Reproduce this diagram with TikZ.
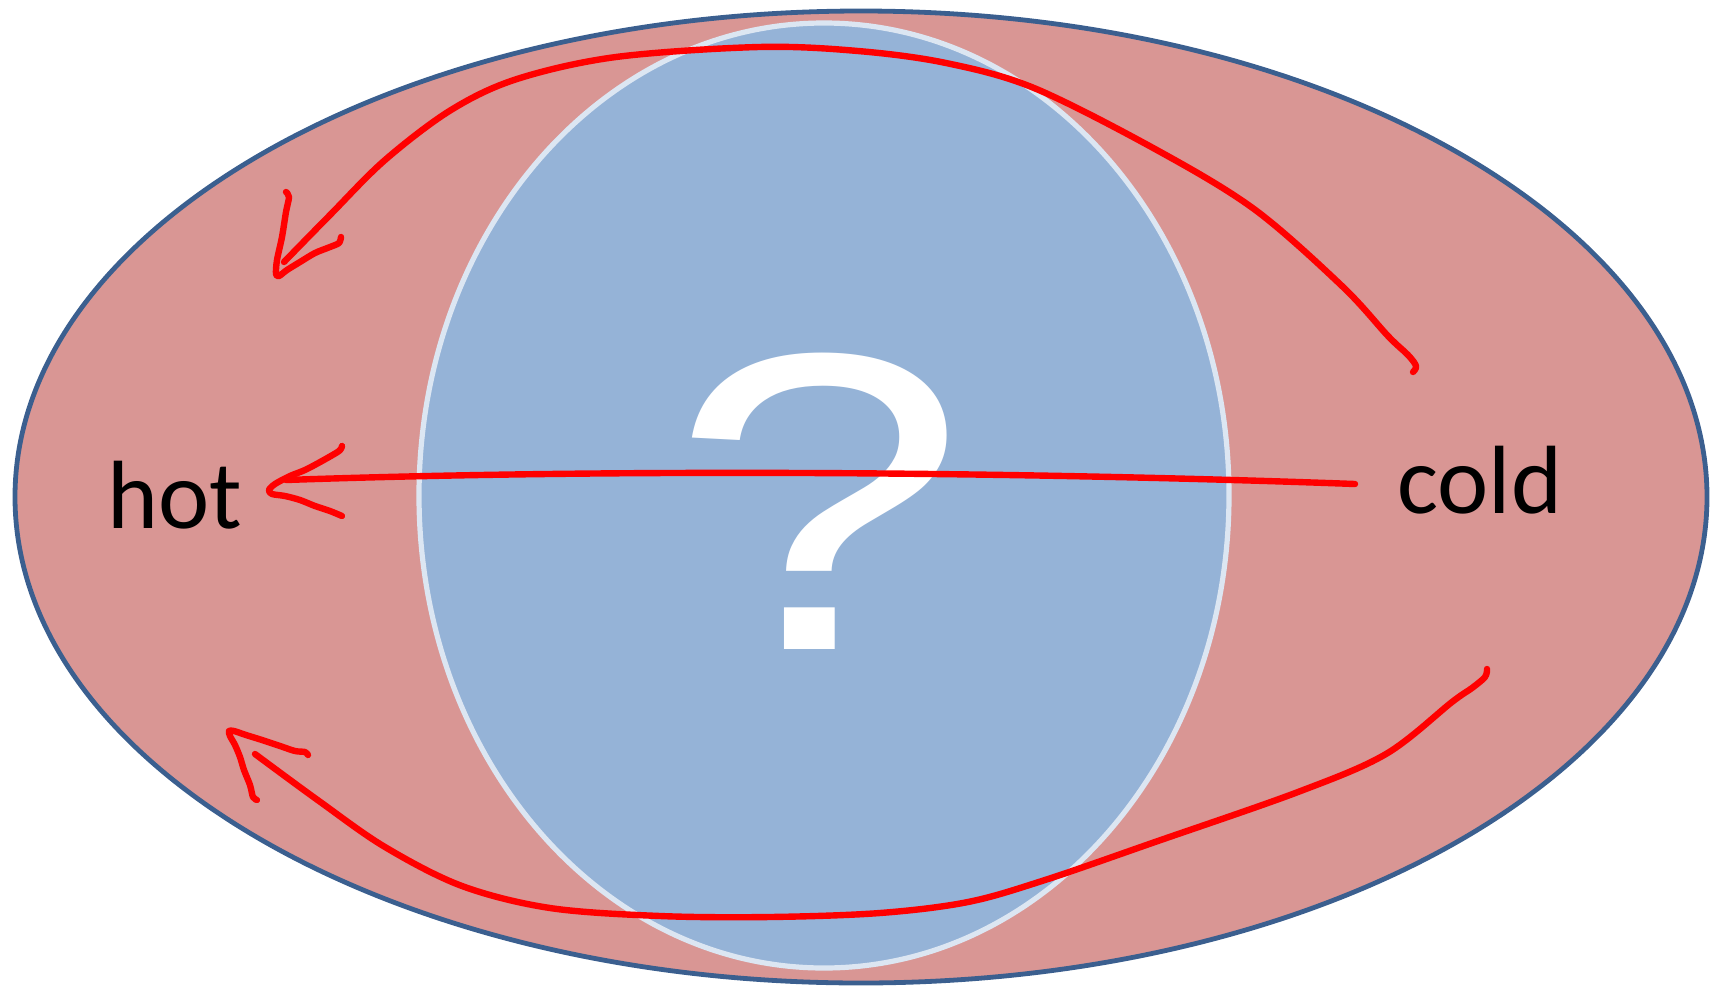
\documentclass[tikz,border=0pt]{standalone}
\usepackage{fontspec}
\setmainfont{Carlito}
\newfontfamily\qfont{Liberation Sans}
\definecolor{outerfill}{HTML}{D99694}
\definecolor{outerline}{HTML}{3B5F8F}
\definecolor{innerfill}{HTML}{95B3D7}
\definecolor{innerline}{HTML}{DCE6F2}
\definecolor{hand}{HTML}{FF0000}
\tikzset{
  handline/.style={draw=hand, line width=3.2pt, line cap=round, line join=round},
  lbl/.style={inner sep=0pt, anchor=base west, font=\fontsize{48.5pt}{50pt}\selectfont},
}
\begin{document}
\begin{tikzpicture}[x=0.5pt, y=-0.5pt]
\useasboundingbox (0,0) rectangle (1725,986);
% outer ellipse
\draw[fill=outerfill, draw=outerline, line width=2.4pt] (861,497) ellipse [x radius=846, y radius=486];
% inner ellipse
\draw[fill=innerfill, draw=innerline, line width=2.6pt] (824,495.5) ellipse [x radius=405, y radius=472.5];
% question mark
\node[inner sep=0pt, anchor=base, text=white] (q) at (818.5,649)
  {\scalebox{1.255}[1]{\qfont\fontsize{212.3pt}{212.3pt}\selectfont ?}};
% labels
\node[lbl] (hot) at (107,528) {hot};
\node[lbl] (cold) at (1397,513) {cold};
% top curve
\coordinate (topstart) at (1413,372);
\coordinate (topend) at (284,262);
\draw[handline] plot[smooth, tension=0.55] coordinates {(1413,372) (1416,366) (1408,355) (1388,336) (1342,286) (1254,209) (1155,149) (1034,88) (946,63) (858,51) (759,47) (616,57) (517,79) (451,110) (385,160) (330,215) (284,262)};
% top arrowhead
\draw[handline] plot[smooth, tension=0.5] coordinates {(286,192) (289,197) (286,212) (282,237) (277,260) (276,274) (279,276) (287,270) (300,262) (315,253) (330,247) (339,243) (341,237)};
% middle line
\coordinate (midstart) at (1355,484);
\coordinate (midend) at (286,480);
\draw[handline] (midstart) .. controls (1000,471) and (600,469) .. (midend);
% middle arrowhead
\draw[handline] plot[smooth, tension=0.5] coordinates {(342,446) (339,451) (322,461) (305,470) (290,476) (275,484) (269,490) (272,494) (285,496) (300,500) (315,506) (330,511) (342,516)};
% bottom curve
\coordinate (botstart) at (1487,669);
\coordinate (botend) at (255,754);
\draw[handline] plot[smooth, tension=0.55] coordinates {(1487,669) (1485,677) (1472,688) (1452,702) (1386,754) (1298,792) (1155,842) (1045,880) (968,902) (880,913) (770,917) (660,916) (550,908) (462,886) (385,847) (319,801) (255,754)};
% bottom arrowhead
\draw[handline] plot[smooth, tension=0.5] coordinates {(257,800) (253,797) (250,785) (244,770) (240,757) (235,745) (230,736) (229,731) (234,731) (246,735) (262,740) (280,746) (295,751) (305,752) (308,755)};
\end{tikzpicture}
\end{document}
